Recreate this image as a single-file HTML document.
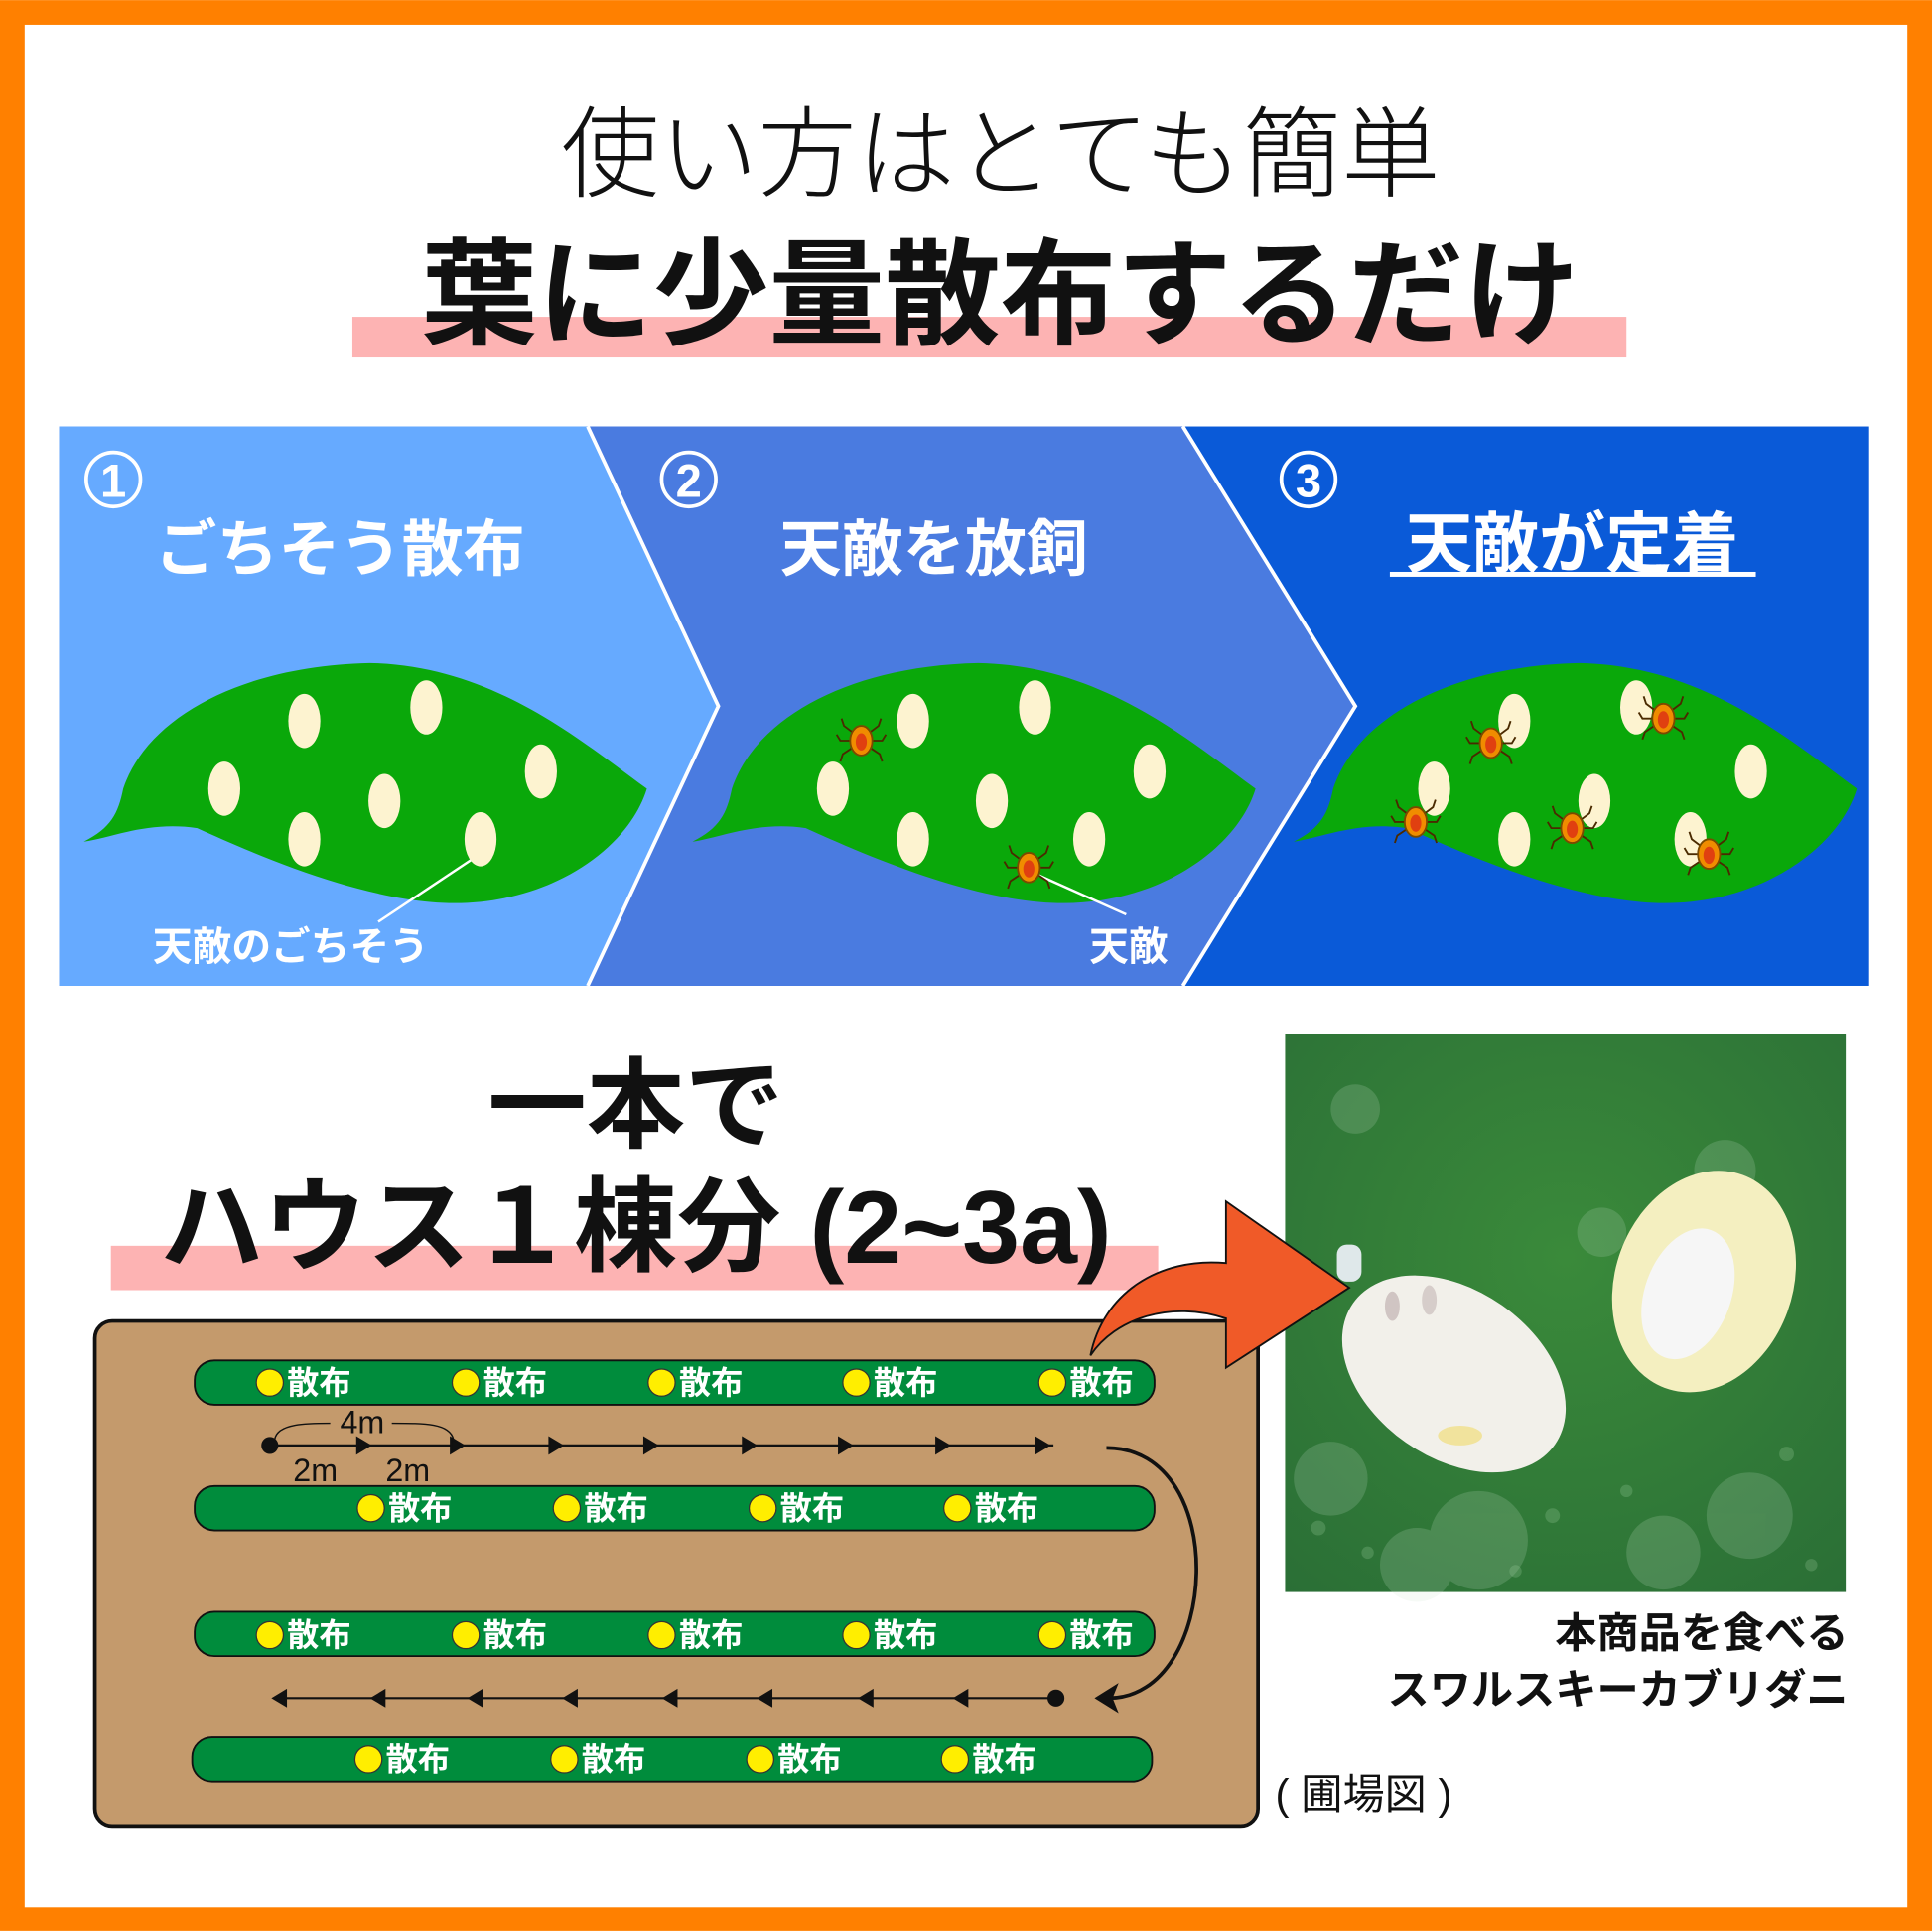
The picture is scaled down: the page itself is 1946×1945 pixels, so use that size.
<!DOCTYPE html>
<html><head><meta charset="utf-8"><style>
html,body{margin:0;padding:0;background:#fff}
svg{display:block}
text{font-family:"Liberation Sans","Noto Sans CJK JP",sans-serif}
</style></head><body>
<svg width="1946" height="1945" viewBox="0 0 1568 1567" xmlns="http://www.w3.org/2000/svg">
<defs>
<radialGradient id="pg" cx="0.5" cy="0.4" r="0.8"><stop offset="0" stop-color="#3a8a3a"/><stop offset="1" stop-color="#2a6e36"/></radialGradient>
<g id="leaf"><path d="M68,683 C90,672 96,660 100,640 C120,580 200,540 300,538 C400,540 470,600 525,640 C510,690 440,740 350,732 C280,726 200,690 160,672 C120,666 90,680 68,683 Z" fill="#0aa80a"/></g>
<g id="mite"><g stroke="#4a2a00" stroke-width="1.5" fill="none"><path d="M-6,-6 l-8,-6 l-2,-6 M6,-6 l8,-6 l2,-6 M-7,0 l-10,0 l-3,-5 M7,0 l10,0 l3,-5 M-6,5 l-9,6 l-2,6 M6,5 l9,6 l2,6"/></g><ellipse rx="9" ry="12" fill="#f08c00" stroke="#7a4a00" stroke-width="1.5"/><ellipse rx="4.5" ry="7" cy="1" fill="#e04010"/></g>
</defs>
<rect width="1568" height="1567" fill="#ff8000"/>
<rect x="20" y="20" width="1528" height="1528" fill="#fff"/>
<text x="812" y="153" font-size="80" text-anchor="middle" fill="#111" font-weight="300">使い方はとても簡単</text>
<rect x="286" y="257" width="1034" height="33" fill="#fdb3b3"/>
<text x="812" y="272" font-size="94" text-anchor="middle" font-weight="bold" fill="#111">葉に少量散布するだけ</text>
<rect x="48" y="346" width="1469" height="454" fill="#0a5ad8"/>
<path d="M48,346 H960 L1100,573 L960,800 H48 Z" fill="#4a7be0"/>
<path d="M48,346 H477 L583,573 L477,800 H48 Z" fill="#66aaff"/>
<path d="M477,346 L583,573 L477,800 M960,346 L1100,573 L960,800" stroke="#fff" stroke-width="3" fill="none"/>
<g fill="#fff" font-weight="bold">
<circle cx="92" cy="389" r="22" fill="none" stroke="#fff" stroke-width="3"/><text x="92" y="403" font-size="38" text-anchor="middle">1</text>
<circle cx="559" cy="389" r="22" fill="none" stroke="#fff" stroke-width="3"/><text x="559" y="403" font-size="38" text-anchor="middle">2</text>
<circle cx="1062" cy="389" r="22" fill="none" stroke="#fff" stroke-width="3"/><text x="1062" y="403" font-size="38" text-anchor="middle">3</text>
<text x="276" y="463" font-size="50" text-anchor="middle">ごちそう散布</text>
<text x="758" y="463" font-size="50" text-anchor="middle">天敵を放飼</text>
<text x="1276" y="460" font-size="54" text-anchor="middle">天敵が定着</text>
<rect x="1128" y="464" width="297" height="4"/>
<text x="236" y="779" font-size="32" text-anchor="middle">天敵のごちそう</text>
<text x="916" y="779" font-size="32" text-anchor="middle">天敵</text>
</g>
<use href="#leaf"/>
<use href="#leaf" x="494"/>
<use href="#leaf" x="982"/>
<g fill="#fdf3d0">
<ellipse cx="247" cy="585" rx="13" ry="22"/><ellipse cx="346" cy="574" rx="13" ry="22"/><ellipse cx="182" cy="640" rx="13" ry="22"/><ellipse cx="312" cy="650" rx="13" ry="22"/><ellipse cx="439" cy="626" rx="13" ry="22"/><ellipse cx="247" cy="681" rx="13" ry="22"/><ellipse cx="390" cy="681" rx="13" ry="22"/>
<ellipse cx="741" cy="585" rx="13" ry="22"/><ellipse cx="840" cy="574" rx="13" ry="22"/><ellipse cx="676" cy="640" rx="13" ry="22"/><ellipse cx="805" cy="650" rx="13" ry="22"/><ellipse cx="933" cy="626" rx="13" ry="22"/><ellipse cx="741" cy="681" rx="13" ry="22"/><ellipse cx="884" cy="681" rx="13" ry="22"/>
<ellipse cx="1229" cy="585" rx="13" ry="22"/><ellipse cx="1328" cy="574" rx="13" ry="22"/><ellipse cx="1164" cy="640" rx="13" ry="22"/><ellipse cx="1294" cy="650" rx="13" ry="22"/><ellipse cx="1421" cy="626" rx="13" ry="22"/><ellipse cx="1229" cy="681" rx="13" ry="22"/><ellipse cx="1372" cy="681" rx="13" ry="22"/>
</g>
<path d="M382,698 L307,748 M838,708 L914,742" stroke="#fff" stroke-width="2"/>
<use href="#mite" x="699" y="601"/><use href="#mite" x="835" y="704"/>
<use href="#mite" x="1210" y="603"/><use href="#mite" x="1350" y="583"/><use href="#mite" x="1149" y="667"/><use href="#mite" x="1276" y="672"/><use href="#mite" x="1387" y="693"/>
<text x="516" y="925" font-size="80" text-anchor="middle" font-weight="bold" fill="#111">一本で</text>
<rect x="90" y="1011" width="850" height="36" fill="#fdb3b3"/>
<text x="516" y="1025" font-size="84" text-anchor="middle" font-weight="bold" fill="#111">ハウス１棟分 (2~3a)</text>
<rect x="77" y="1072" width="944" height="410" rx="14" fill="#c49a6c" stroke="#111" stroke-width="3"/>
<g fill="#008c3c" stroke="#111" stroke-width="1.5">
<rect x="158" y="1104" width="779" height="36" rx="16"/><rect x="158" y="1206" width="779" height="36" rx="16"/>
<rect x="158" y="1308" width="779" height="36" rx="16"/><rect x="156" y="1410" width="779" height="36" rx="16"/>
</g>
<g font-size="26" fill="#fff" font-weight="bold">
<g id="r1"><circle cx="219" cy="1122" r="11" fill="#ffee00" stroke="#333"/><text x="233" y="1131">散布</text>
<circle cx="378" cy="1122" r="11" fill="#ffee00" stroke="#333"/><text x="392" y="1131">散布</text>
<circle cx="537" cy="1122" r="11" fill="#ffee00" stroke="#333"/><text x="551" y="1131">散布</text>
<circle cx="695" cy="1122" r="11" fill="#ffee00" stroke="#333"/><text x="709" y="1131">散布</text>
<circle cx="854" cy="1122" r="11" fill="#ffee00" stroke="#333"/><text x="868" y="1131">散布</text></g>
<use href="#r1" y="205"/>
<g id="r2"><circle cx="301" cy="1224" r="11" fill="#ffee00" stroke="#333"/><text x="315" y="1233">散布</text>
<circle cx="460" cy="1224" r="11" fill="#ffee00" stroke="#333"/><text x="474" y="1233">散布</text>
<circle cx="619" cy="1224" r="11" fill="#ffee00" stroke="#333"/><text x="633" y="1233">散布</text>
<circle cx="777" cy="1224" r="11" fill="#ffee00" stroke="#333"/><text x="791" y="1233">散布</text></g>
<use href="#r2" x="-2" y="204"/>
</g>
<g stroke="#111" stroke-width="1.8" fill="#111">
<line x1="219" y1="1173" x2="855" y2="1173"/><circle cx="219" cy="1173" r="6"/>
<path d="M290,1167 l10,6 l-10,6Z M366,1167 l10,6 l-10,6Z M446,1167 l10,6 l-10,6Z M523,1167 l10,6 l-10,6Z M603,1167 l10,6 l-10,6Z M681,1167 l10,6 l-10,6Z M760,1167 l10,6 l-10,6Z M841,1167 l10,6 l-10,6Z"/>
<line x1="225" y1="1378" x2="857" y2="1378"/><circle cx="857" cy="1378" r="6"/>
<path d="M232,1372 l-10,6 l10,6Z M312,1372 l-10,6 l10,6Z M391,1372 l-10,6 l10,6Z M468,1372 l-10,6 l10,6Z M549,1372 l-10,6 l10,6Z M626,1372 l-10,6 l10,6Z M708,1372 l-10,6 l10,6Z M785,1372 l-10,6 l10,6Z"/>
<path d="M898,1175 C1000,1175 990,1378 900,1378" fill="none" stroke-width="3"/>
<path d="M890,1378 l16,-10 l-4,10 l4,10Z"/>
<path d="M223,1168 C225,1155 250,1155 268,1155 M318,1155 C345,1155 365,1155 368,1168" fill="none" stroke-width="1.2"/>
</g>
<g font-size="26" fill="#111"><text x="294" y="1163" text-anchor="middle">4m</text><text x="256" y="1202" text-anchor="middle">2m</text><text x="331" y="1202" text-anchor="middle">2m</text></g>
<rect x="1043" y="839" width="455" height="453" fill="url(#pg)"/>
<g fill="#cfe6d0" opacity="0.18"><circle cx="1100" cy="900" r="20"/><circle cx="1400" cy="950" r="25"/><circle cx="1200" cy="1250" r="40"/><circle cx="1420" cy="1230" r="35"/><circle cx="1080" cy="1200" r="30"/><circle cx="1300" cy="1000" r="20"/><circle cx="1150" cy="1270" r="30"/><circle cx="1350" cy="1260" r="30"/></g>
<g fill="#9fd0a0" opacity="0.25"><circle cx="1070" cy="1240" r="6"/><circle cx="1110" cy="1260" r="5"/><circle cx="1260" cy="1230" r="6"/><circle cx="1320" cy="1210" r="5"/><circle cx="1450" cy="1180" r="6"/><circle cx="1470" cy="1270" r="5"/><circle cx="1230" cy="1275" r="5"/></g>
<ellipse cx="1180" cy="1115" rx="100" ry="68" transform="rotate(35 1180 1115)" fill="#f2f0ea"/>
<ellipse cx="1130" cy="1060" rx="6" ry="12" fill="#b9a9a9" opacity="0.6"/><ellipse cx="1160" cy="1055" rx="6" ry="12" fill="#b9a9a9" opacity="0.5"/>
<ellipse cx="1185" cy="1165" rx="18" ry="8" fill="#f0e08a" opacity="0.8"/>
<rect x="1085" y="1010" width="20" height="30" rx="8" fill="#dfe8ea"/>
<ellipse cx="1383" cy="1040" rx="72" ry="92" transform="rotate(20 1383 1040)" fill="#f4efc0"/>
<ellipse cx="1370" cy="1050" rx="35" ry="55" transform="rotate(20 1370 1050)" fill="#f6f6f6"/>
<path d="M885,1100 C895,1050 940,1020 995,1025 L995,975 L1095,1045 L995,1110 L995,1070 C950,1055 905,1070 885,1100 Z" fill="#f05a28" stroke="#111" stroke-width="1.5"/>
<g font-size="34" font-weight="bold" fill="#111" text-anchor="end"><text x="1500" y="1337">本商品を食べる</text><text x="1500" y="1383">スワルスキーカブリダニ</text></g>
<text x="1035" y="1468" font-size="34" fill="#111">( 圃場図 )</text>
</svg>
</body></html>
